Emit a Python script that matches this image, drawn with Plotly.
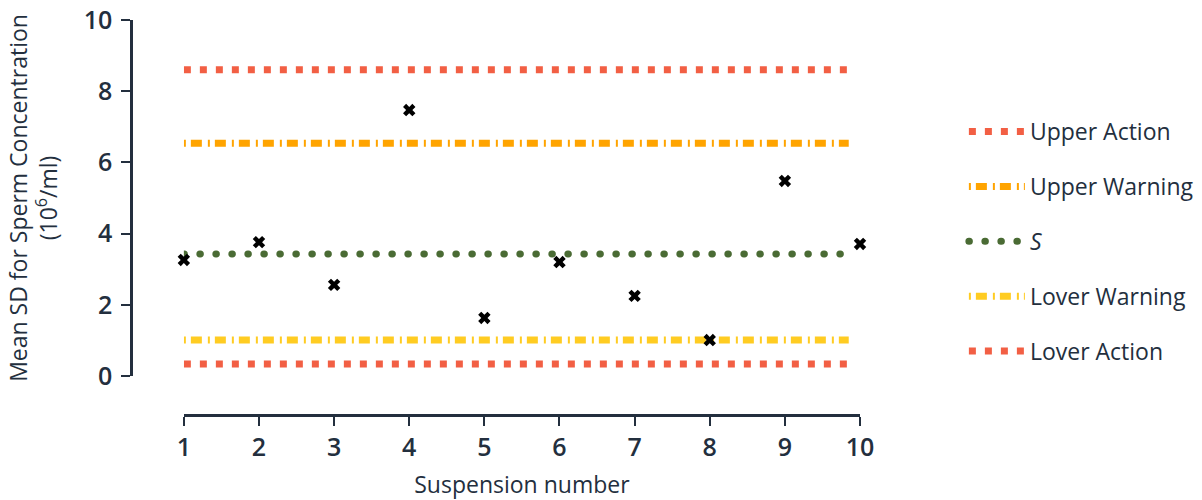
import plotly.graph_objects as go

# suspension results
suspension = [1, 2, 3, 4, 5, 6, 7, 8, 9, 10]
mean_sd = [3.26, 3.76, 2.56, 7.47, 1.63, 3.20, 2.25, 1.01, 5.48, 3.71]

# control limits
limit_x = [1, 9.85]
limit_names = ['Upper Action', 'Upper Warning', '<i>S</i>', 'Lover Warning', 'Lover Action']
limit_values = [8.60, 6.54, 3.43, 1.01, 0.34]

ink = '#232F3E'
styles = [
    dict(color='#F25F44', width=7, dash='7px,9px'),
    dict(color='#FFA400', width=7, dash='2px,5px,11px,6px'),
    dict(color='#4A6B34', width=7, dash='0.5px,15.5px'),
    dict(color='#FFCC22', width=7, dash='2px,5px,11px,6px'),
    dict(color='#F25F44', width=7, dash='7px,9px'),
]

fig = go.Figure()
for i, (nm, v) in enumerate(zip(limit_names, limit_values)):
    fig.add_trace(go.Scatter(x=limit_x, y=[v, v], mode='lines', name=nm,
                             line=styles[i], legendgroup=str(i), cliponaxis=False))

fig.add_trace(go.Scatter(x=suspension, y=mean_sd, mode='markers', showlegend=False,
                         marker=dict(symbol='x', size=11, color='black'), cliponaxis=False))

fig.update_layout(
    width=1202, height=500,
    margin=dict(l=131, r=342, t=20, b=85, autoexpand=False),
    plot_bgcolor='white', paper_bgcolor='white',
    font=dict(family='Open Sans', size=23, color=ink),
    legend=dict(x=1.1425, y=0.772, xanchor='left', yanchor='top', tracegroupgap=22,
                itemwidth=56, font=dict(size=23, color=ink)),
    xaxis=dict(range=[1, 10], domain=[53/731, 1], anchor='free', position=0,
               tickmode='linear', dtick=1, showgrid=False, zeroline=False, automargin=False,
               showline=True, linecolor=ink, linewidth=2.5, ticks='outside', ticklen=9,
               tickwidth=2, tickcolor=ink, tickfont=dict(size=25, weight=600),
               title=dict(text='Suspension number', standoff=19, font=dict(size=23))),
    yaxis=dict(range=[0, 10], domain=[39/395, 1], anchor='free', position=0,
               tickmode='linear', dtick=2, showgrid=False, zeroline=False, automargin=False,
               showline=True, linecolor=ink, linewidth=2.5, ticks='outside', ticklen=9,
               tickwidth=2, tickcolor=ink, tickfont=dict(size=25, weight=600),
               ticklabelstandoff=4,
               title=dict(text='Mean SD for Sperm Concentration<br>(10<sup>6</sup>/ml)',
                          standoff=18, font=dict(size=23))),
)

# no page margin, and round caps so the S line is drawn as dots
post = """
document.body.style.margin = '0';
var fix = function(){
  document.querySelectorAll('path').forEach(function(p){
    var s = p.style.stroke || '';
    if (s.replace(/\\s/g,'') === 'rgb(74,107,52)') { p.style.strokeLinecap = 'round'; }
  });
};
fix();
var gd = document.getElementsByClassName('plotly-graph-div')[0];
gd.on('plotly_afterplot', fix);
"""
fig.write_html('out.html', post_script=post, config={'displayModeBar': False})
